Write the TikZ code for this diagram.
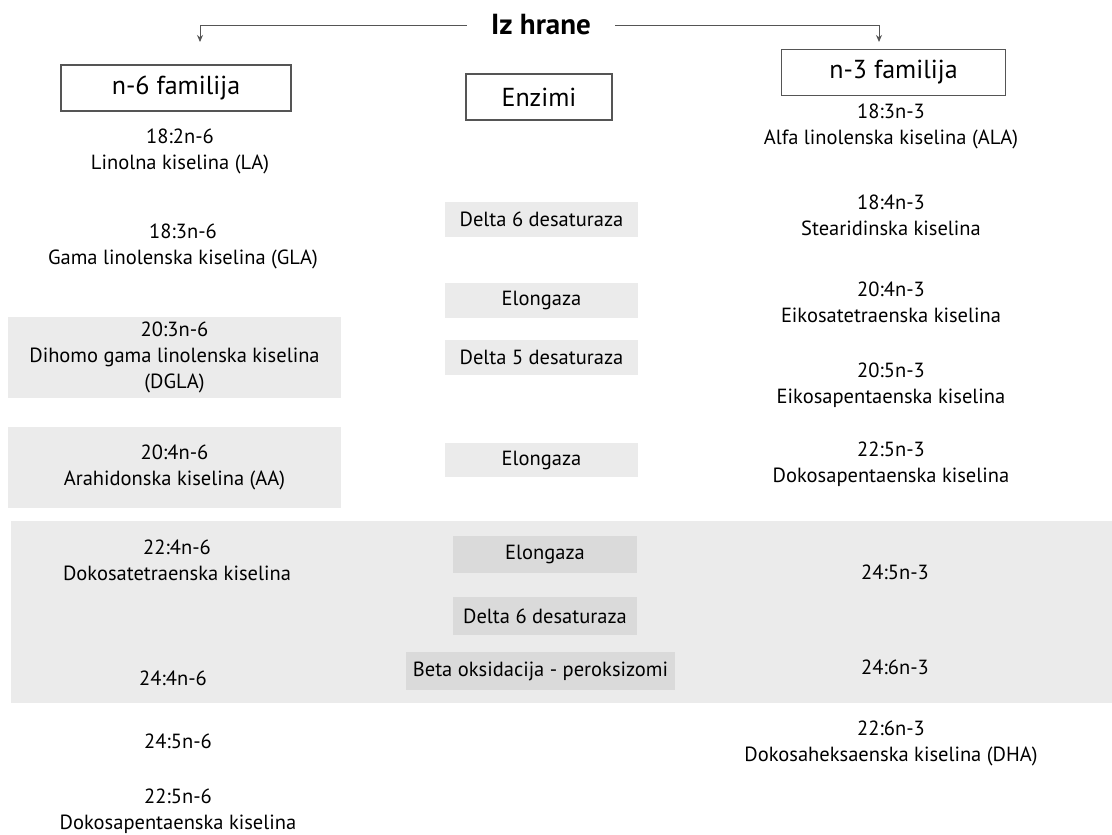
\documentclass[tikz,border=0pt]{standalone}
\usepackage{fontspec}
\setmainfont{PT Sans}
\usetikzlibrary{arrows.meta, positioning}

\definecolor{boxgray}{RGB}{235,235,235}
\definecolor{enzgray}{RGB}{218,218,218}
\definecolor{linegray}{RGB}{85,85,85}

\begin{document}
\begin{tikzpicture}[
        x=1pt, y=-1pt,
        family/.style={rectangle, draw=linegray, line width=1.3pt, fill=white,
                       font=\fontsize{26}{30}\selectfont, inner sep=0pt},
        acid/.style={align=center, font=\fontsize{20.5}{26}\selectfont, inner sep=0pt},
        acidbox/.style={acid, fill=boxgray, minimum width=333pt, minimum height=81pt},
        enzyme/.style={rectangle, fill=boxgray, font=\fontsize{20.5}{24}\selectfont,
                       minimum width=193pt, minimum height=35pt, inner sep=0pt},
        enzymedark/.style={enzyme, fill=enzgray, minimum width=184pt, minimum height=37pt},
        arrow/.style={draw=linegray, line width=1pt, -{Stealth[length=7pt, width=6pt]}}
    ]
        \useasboundingbox (0,0) rectangle (1112,835);

        % background band
        \node[fill=boxgray, minimum width=1101pt, minimum height=182pt, inner sep=0pt] (band) at (561.5,612) {};

        % header
        \node[font=\fontsize{29}{32}\selectfont\bfseries, inner xsep=24pt] (izhrane) at (541,25) {Iz hrane};
        \node[family, minimum width=230pt, minimum height=46pt] (n6) at (176,88) {n-6 familija};
        \node[family, minimum width=146pt, minimum height=46pt] (enzimi) at (539,97) {Enzimi};
        \node[family, minimum width=224pt, minimum height=46pt] (n3) at (893.5,72.5) {n-3 familija};
        \coordinate (n6in) at (200,42);
        \coordinate (n3in) at (879,42);

        % n-6 column
        \node[acid] (la) at (180,151.5) {18:2n-6\\Linolna kiselina (LA)};
        \node[acid] (gla) at (183,246.5) {18:3n-6\\Gama linolenska kiselina (GLA)};
        \node[acidbox] (dgla) at (174.5,357.5) {20:3n-6\\Dihomo gama linolenska kiselina\\(DGLA)};
        \node[acidbox] (aa) at (174.5,467.5) {20:4n-6\\Arahidonska kiselina (AA)};
        \node[acid] (dta) at (177,560) {22:4n-6\\Dokosatetraenska kiselina};
        \node[acid] (tpa6) at (173,678) {24:4n-6};
        \node[acid] (thpa6) at (178,741) {24:5n-6};
        \node[acid] (dpa6) at (178,811) {22:5n-6\\Dokosapentaenska kiselina};

        % enzimi
        \node[enzyme] (d6a) at (541.5,219) {Delta 6 desaturaza};
        \node[enzyme] (el1) at (541.5,300.5) {Elongaza};
        \node[enzyme] (d5) at (541.5,357.5) {Delta 5 desaturaza};
        \node[enzyme, minimum height=34pt] (el2) at (541.5,460) {Elongaza};
        \node[enzymedark] (el3) at (545,554.5) {Elongaza};
        \node[enzymedark, minimum height=38pt] (d6b) at (545,616) {Delta 6 desaturaza};
        \node[enzymedark, minimum width=269pt, minimum height=38pt] (beta) at (540.5,671) {Beta oksidacija - peroksizomi};

        % n-3 column
        \node[acid] (ala) at (891,126.5) {18:3n-3\\Alfa linolenska kiselina (ALA)};
        \node[acid] (sda) at (891,215) {18:4n-3\\Stearidinska kiselina};
        \node[acid] (eta) at (891,302.5) {20:4n-3\\Eikosatetraenska kiselina};
        \node[acid] (epa) at (891,385.5) {20:5n-3\\Eikosapentaenska kiselina};
        \node[acid] (dpa3) at (891,464) {22:5n-3\\Dokosapentaenska kiselina};
        \node[acid] (thpa3) at (895,572) {24:5n-3};
        \node[acid] (thxa3) at (895,667) {24:6n-3};
        \node[acid] (dha) at (891,743.5) {22:6n-3\\Dokosaheksaenska kiselina (DHA)};

        \draw[arrow] (izhrane.west) -| (n6in);
        \draw[arrow] (izhrane.east) -| (n3in);
    \end{tikzpicture}
\end{document}
